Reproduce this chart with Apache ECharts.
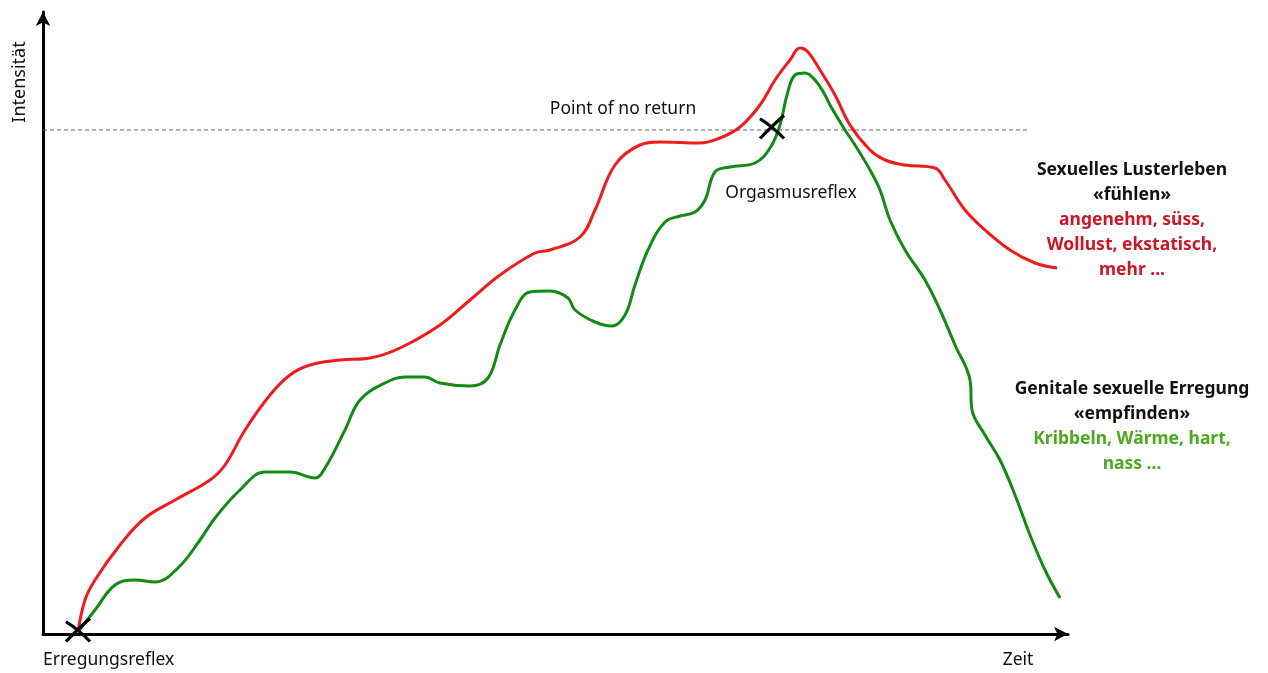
<!DOCTYPE html>
<html>
<head>
<meta charset="utf-8">
<script src="https://cdn.jsdelivr.net/npm/echarts@6/dist/echarts.min.js"></script>
<style>
  html, body { margin: 0; padding: 0; background: #fff; }
  #chart { width: 1268px; height: 673px; }
</style>
</head>
<body>
<div id="chart"></div>
<script>
// Zeit (x) und Intensität (y)
const luster = [
  [35, 2], [42, 34], [52, 54], [77, 89], [102, 116], [132, 134], [167, 154], [182, 169],
  [202, 204], [227, 239], [247, 259], [267, 269], [297, 274], [327, 276], [357, 286],
  [397, 309], [427, 334], [457, 359], [492, 381], [507, 384], [537, 397], [552, 424],
  [572, 469], [597, 489], [617, 492], [657, 491], [677, 496], [697, 507], [717, 529],
  [732, 554], [747, 574], [757, 586], [765, 582], [777, 564], [792, 539], [807, 509],
  [827, 484], [842, 474], [862, 469], [892, 466], [902, 454], [922, 424], [942, 404],
  [967, 384], [992, 371], [1014, 366]
]
const erregung = [
  [35, 2], [52, 24], [72, 49], [92, 54], [112, 52], [135, 66], [157, 94], [172, 116],
  [197, 144], [222, 162], [247, 162], [272, 156], [282, 166], [302, 204], [317, 234],
  [342, 251], [362, 257], [382, 257], [397, 251], [427, 248], [445, 256], [457, 289],
  [472, 324], [487, 342], [507, 343], [525, 336], [532, 324], [552, 312], [569, 308],
  [582, 319], [592, 349], [605, 384], [622, 412], [637, 418], [652, 422], [662, 434],
  [672, 462], [687, 467], [712, 471], [727, 486], [737, 509], [744, 539], [752, 559],
  [762, 561], [772, 554], [782, 539], [787, 529], [802, 504], [812, 489], [827, 464],
  [837, 444], [847, 414], [862, 384], [882, 354], [897, 324], [912, 289], [927, 254],
  [929, 224], [942, 199], [957, 174], [972, 139], [987, 99], [1002, 64], [1017, 36]
]
const reflexe = [[35, 4], [729, 507]]
const schwelle = 504

const chart = echarts.init(document.getElementById('chart'))
const kreuz = 'path://M0,2 C4,5 8,9 12,14 M12,0 C8,4 4,9 0,14'
const font = '"Noto Sans", sans-serif'

chart.setOption({
  animation: false,
  grid: { left: 43, right: 200, top: 12, bottom: 39 },
  xAxis: {
    type: 'value', min: 0, max: 1025,
    axisLine: { lineStyle: { color: '#000', width: 3 }, symbol: ['none', 'arrow'], symbolSize: [11, 14] },
    axisTick: { show: false }, axisLabel: { show: false }, splitLine: { show: false }
  },
  yAxis: {
    type: 'value', min: 0, max: 622,
    axisLine: { show: true, lineStyle: { color: '#000', width: 3 }, symbol: ['none', 'arrow'], symbolSize: [11, 14] },
    axisTick: { show: false }, axisLabel: { show: false }, splitLine: { show: false }
  },
  series: [
    {
      name: 'Schwelle', type: 'line', silent: true, showSymbol: false,
      data: [[0, schwelle], [987, schwelle]],
      lineStyle: { color: '#666', width: 1, type: [4, 3] }
    },
    {
      name: 'Sexuelles Lusterleben', type: 'line', smooth: 0.4, showSymbol: false,
      data: luster, lineStyle: { color: '#ee1c1c', width: 3 }
    },
    {
      name: 'Genitale sexuelle Erregung', type: 'line', smooth: 0.4, showSymbol: false,
      data: erregung, lineStyle: { color: '#138a13', width: 3 }
    },
    {
      name: 'Reflex', type: 'scatter', symbol: kreuz, symbolSize: [24, 23], z: 5,
      data: reflexe,
      itemStyle: { color: 'none', borderColor: '#000', borderWidth: 3.2, opacity: 1 }
    }
  ],
  graphic: [
    { type: 'text', x: 20, y: 82, rotation: Math.PI / 2,
      style: { text: 'Intensität', font: '18px ' + font, fill: '#111', align: 'center', verticalAlign: 'middle' } },
    { type: 'text', x: 43, y: 660,
      style: { text: 'Erregungsreflex', font: '17.5px ' + font, fill: '#111', align: 'left', verticalAlign: 'middle' } },
    { type: 'text', x: 1018, y: 660,
      style: { text: 'Zeit', font: '17.5px ' + font, fill: '#111', align: 'center', verticalAlign: 'middle' } },
    { type: 'text', x: 623, y: 109,
      style: { text: 'Point of no return', font: '17.5px ' + font, fill: '#111', align: 'center', verticalAlign: 'middle' } },
    { type: 'text', x: 791, y: 193,
      style: { text: 'Orgasmusreflex', font: '17.5px ' + font, fill: '#111', align: 'center', verticalAlign: 'middle' } },
    { type: 'text', x: 1132, y: 158,
      style: {
        text: '{b|Sexuelles Lusterleben}\n{b|«fühlen»}\n{r|angenehm, süss,}\n{r|Wollust, ekstatisch,}\n{r|mehr ...}',
        align: 'center',
        rich: {
          b: { font: 'bold 17.5px ' + font, fill: '#111', lineHeight: 25, align: 'center' },
          r: { font: 'bold 17.5px ' + font, fill: '#cc1526', lineHeight: 25, align: 'center' }
        }
      } },
    { type: 'text', x: 1132, y: 377,
      style: {
        text: '{b|Genitale sexuelle Erregung}\n{b|«empfinden»}\n{g|Kribbeln, Wärme, hart,}\n{g|nass ...}',
        align: 'center',
        rich: {
          b: { font: 'bold 17.5px ' + font, fill: '#111', lineHeight: 25, align: 'center' },
          g: { font: 'bold 17.5px ' + font, fill: '#4aaa1e', lineHeight: 25, align: 'center' }
        }
      } }
  ]
})
</script>
</body>
</html>
